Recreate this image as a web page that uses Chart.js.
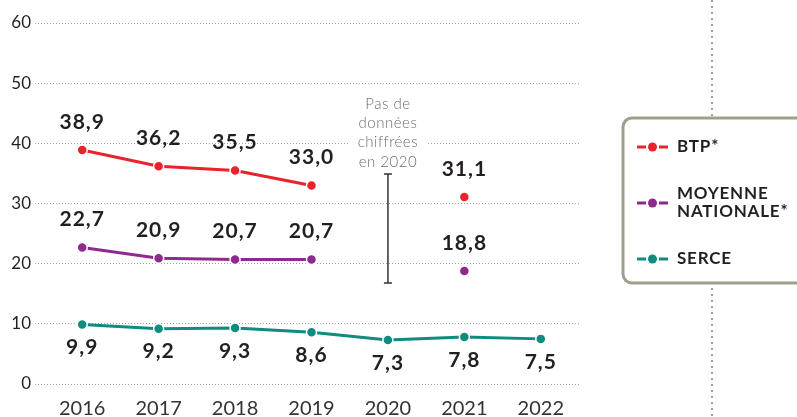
<!DOCTYPE html>
<html>
<head>
<meta charset="utf-8">
<script src="https://cdn.jsdelivr.net/npm/chart.js@4.4.1/dist/chart.umd.min.js"></script>
<style>
  body { margin: 0; background: #fff; }
  #wrap { width: 797px; height: 417px; position: relative; }
</style>
</head>
<body>
<div id="wrap"><canvas id="myChart"></canvas></div>
<script>
const years = ['2016', '2017', '2018', '2019', '2020', '2021', '2022'];
const btp = [38.9, 36.2, 35.5, 33.0, null, 31.1, null];
const moyenne = [22.7, 20.9, 20.7, 20.7, null, 18.8, null];
const serce = [9.9, 9.2, 9.3, 8.6, 7.3, 7.8, 7.5];
const yTicks = [0, 10, 20, 30, 40, 50, 60];
const noteLines = ['Pas de', 'données', 'chiffrées', 'en 2020'];

const RED = '#e8232b', PURPLE = '#8e2a8e', TEAL = '#0f8b7f';
const FONT = 'Lato, "Open Sans", sans-serif';
const INK = '#231f20';

const ctx = document.getElementById('myChart').getContext('2d');

function fmt(v) { return v.toFixed(1).replace('.', ','); }

// value labels above (or below) each point
const valueLabels = {
  id: 'valueLabels',
  afterDatasetsDraw(chart) {
    const c = chart.ctx;
    c.save();
    c.font = 'bold 21px ' + FONT;
    c.letterSpacing = '1px';
    c.fillStyle = INK;
    c.textAlign = 'center';
    c.textBaseline = 'middle';
    chart.data.datasets.forEach((ds, i) => {
      const meta = chart.getDatasetMeta(i);
      meta.data.forEach((pt, j) => {
        const v = ds.data[j];
        if (v == null) return;
        const dy = ds.labelBelow ? 23 : -28;
        c.fillText(fmt(v), pt.x, pt.y + dy);
      });
    });
    c.restore();
  }
};

const note = {
  id: 'note',
  afterDatasetsDraw(chart) {
    const c = chart.ctx;
    const x = chart.scales.x.getPixelForValue(4);
    const y = chart.scales.y;
    const top = y.getPixelForValue(34.9), bot = y.getPixelForValue(16.8);
    c.save();
    c.strokeStyle = '#333';
    c.lineWidth = 1.5;
    c.beginPath();
    c.moveTo(x, top); c.lineTo(x, bot);
    c.moveTo(x - 4, top); c.lineTo(x + 4, top);
    c.moveTo(x - 4, bot); c.lineTo(x + 4, bot);
    c.stroke();
    c.font = '300 15px ' + FONT;
    c.letterSpacing = '0.5px';
    c.textAlign = 'center';
    c.textBaseline = 'middle';
    const y0 = top - 70;
    c.fillStyle = '#fff';
    c.fillRect(x - 38, y0 - 10, 76, 19.3 * noteLines.length);
    c.fillStyle = '#6d6e71';
    noteLines.forEach((t, i) => c.fillText(t, x, y0 + i * 19.3));
    c.restore();
  }
};

const sideLegend = {
  id: 'sideLegend',
  afterDraw(chart) {
    const c = chart.ctx;
    c.save();
    // dotted vertical rule
    c.strokeStyle = '#a39e8c';
    c.lineWidth = 2;
    c.setLineDash([2, 4]);
    c.beginPath();
    c.moveTo(712, 0); c.lineTo(712, 417);
    c.stroke();
    c.setLineDash([]);
    // box
    c.fillStyle = '#fff';
    c.strokeStyle = '#a39e8c';
    c.lineWidth = 3;
    c.beginPath();
    c.roundRect(623, 118, 190, 165, 9);
    c.fill();
    c.stroke();
    const items = [
      { color: RED, lines: ['BTP*'], y: 147 },
      { color: PURPLE, lines: ['MOYENNE', 'NATIONALE*'], y: 203 },
      { color: TEAL, lines: ['SERCE'], y: 259 }
    ];
    c.font = 'bold 17px ' + FONT;
    c.letterSpacing = '0.8px';
    c.textBaseline = 'middle';
    c.textAlign = 'left';
    items.forEach(it => {
      c.strokeStyle = it.color;
      c.fillStyle = it.color;
      c.lineWidth = 3;
      c.beginPath();
      c.moveTo(637, it.y); c.lineTo(646, it.y);
      c.moveTo(659, it.y); c.lineTo(668, it.y);
      c.stroke();
      c.beginPath();
      c.arc(652.5, it.y, 4.5, 0, Math.PI * 2);
      c.fill();
      c.fillStyle = INK;
      const n = it.lines.length;
      it.lines.forEach((t, k) => c.fillText(t, 677, it.y + (k - (n - 1) / 2) * 18));
    });
    c.restore();
  }
};

function series(label, data, color, below) {
  return {
    label: label,
    data: data,
    borderColor: color,
    backgroundColor: color,
    borderWidth: 3,
    pointRadius: 5,
    pointBorderColor: '#fff',
    pointBorderWidth: 1.5,
    pointBackgroundColor: color,
    spanGaps: false,
    tension: 0,
    labelBelow: below
  };
}

const graphData = {
  type: 'line',
  data: {
    labels: years,
    datasets: [
      series('BTP*', btp, RED, false),
      series('MOYENNE NATIONALE*', moyenne, PURPLE, false),
      series('SERCE', serce, TEAL, true)
    ]
  },
  options: {
    responsive: true,
    maintainAspectRatio: false,
    animation: false,
    layout: { padding: { top: 23, right: 218, bottom: 0, left: 0 } },
    plugins: { legend: { display: false }, tooltip: { enabled: false } },
    scales: {
      x: {
        offset: true,
        grid: { display: false, drawTicks: false },
        border: { display: false },
        ticks: { color: '#333', font: { family: FONT, size: 20 }, padding: 13 },
        afterFit(s) { s.height = 33; }
      },
      y: {
        min: 0, max: 60,
        afterBuildTicks(s) { s.ticks = yTicks.map(v => ({ value: v })); },
        grid: {
          color: '#aaa391',
          lineWidth: 1,
          tickLength: 9,
          tickColor: '#aaa391',
          tickBorderDash: [1, 2]
        },
        border: { display: false, dash: [1, 2] },
        ticks: { color: INK, font: { family: FONT, size: 17 }, padding: 4 },
        afterFit(s) { s.width = 44; }
      }
    }
  },
  plugins: [valueLabels, note, sideLegend]
};

const myChart = new Chart(ctx, graphData);
</script>
</body>
</html>
